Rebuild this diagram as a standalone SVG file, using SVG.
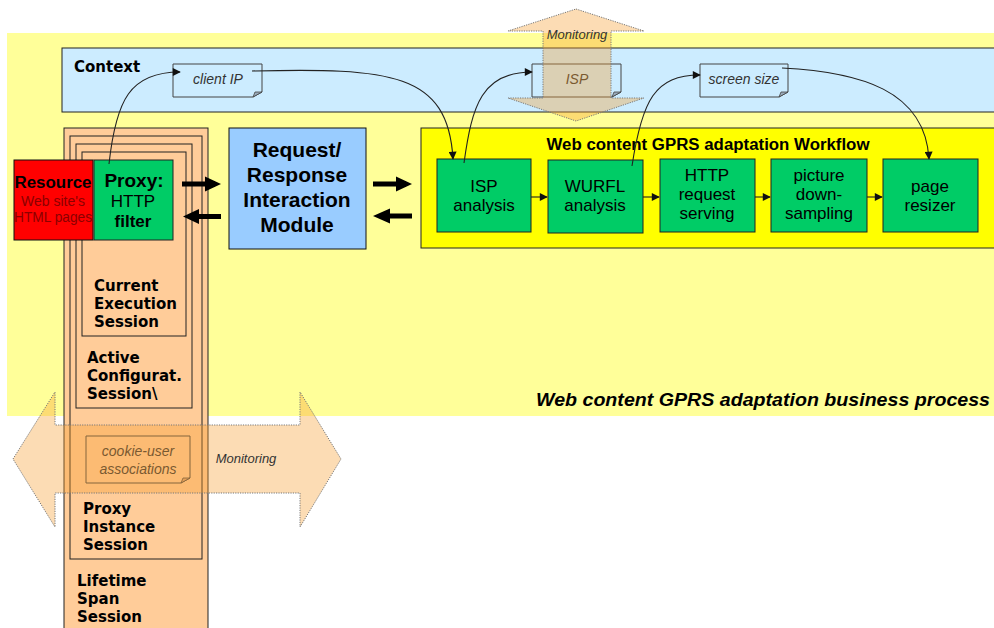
<svg xmlns="http://www.w3.org/2000/svg" width="994" height="628" viewBox="0 0 994 628">
  <defs>
    <style>
      .box { stroke: #111; stroke-width: 1; }
      .sess { fill: #FFCC99; stroke: #222; stroke-width: 1; }
      .step { fill: #00CC66; stroke: #222; stroke-width: 1; }
      .note { fill: #CCECFF; stroke: #444; stroke-width: 1; }
      .curl { fill: #9ab; stroke: #444; stroke-width: 0.8; }
      .lbl { font-family: "Liberation Sans", Arial, sans-serif; fill: #000; }
      .sl { font-family: "DejaVu Sans", Verdana, sans-serif; font-weight: bold; font-size: 15px; fill: #000; }
      .st { font-family: "Liberation Sans", Arial, sans-serif; font-size: 17px; text-anchor: middle; fill: #000; }
      .it { font-family: "Liberation Sans", Arial, sans-serif; font-style: italic; font-size: 14px; fill: #333; text-anchor: middle; }
      .web { font-family: "Liberation Sans", Arial, sans-serif; font-size: 14px; text-anchor: middle; fill: #8B0000; }
      .conn { fill: none; stroke: #222; stroke-width: 1.1; marker-end: url(#ah); }
      .fat { fill: #000; }
      .mon { fill: #F89E30; fill-opacity: 0.36; stroke: #777; stroke-width: 1; stroke-dasharray: 1.2 1.2; }
    </style>
    <marker id="ah" viewBox="0 0 10 10" refX="9" refY="5" markerWidth="9" markerHeight="8" markerUnits="userSpaceOnUse" orient="auto">
      <path d="M0,0 L10,5 L0,10 z" fill="#111"/>
    </marker>
  </defs>

  <rect width="994" height="628" fill="#fff"/>

  <!-- business process area -->
  <g id="business-process">
    <rect x="7" y="33" width="1000" height="383" fill="#FFFF99"/>
    <text class="lbl" x="990" y="406" text-anchor="end" font-size="19" font-weight="bold" font-style="italic" textLength="454" lengthAdjust="spacingAndGlyphs">Web content GPRS adaptation business process</text>
  </g>

  <!-- context band -->
  <g id="context">
    <rect x="62" y="48" width="950" height="64" fill="#CCECFF" stroke="#222" stroke-width="1"/>
    <text class="sl" x="74" y="72">Context</text>
  </g>

  <g id="note-client-ip">
    <path class="note" d="M173,64 H262 V92 L253,97 H173 Z"/>
    <path class="curl" d="M253,97 L255,92 L262,92 Z"/>
    <text class="it" x="218" y="84">client IP</text>
  </g>
  <g id="note-isp">
    <path class="note" d="M532,64 H621 V92 L612,97 H532 Z"/>
    <path class="curl" d="M612,97 L614,92 L621,92 Z"/>
    <text class="it" x="577" y="84">ISP</text>
  </g>
  <g id="note-screen-size">
    <path class="note" d="M700,64 H788 V92 L779,97 H700 Z"/>
    <path class="curl" d="M779,97 L781,92 L788,92 Z"/>
    <text class="it" x="744" y="84">screen size</text>
  </g>

  <!-- nested proxy sessions -->
  <g id="lifetime-span-session">
    <rect class="sess" x="64" y="128" width="144" height="520"/>
    <text class="sl" x="77" y="586">Lifetime</text>
    <text class="sl" x="77" y="604">Span</text>
    <text class="sl" x="77" y="622">Session</text>
  </g>
  <g id="proxy-instance-session">
    <rect class="sess" x="70" y="136" width="132" height="423"/>
    <text class="sl" x="83" y="514">Proxy</text>
    <text class="sl" x="83" y="532">Instance</text>
    <text class="sl" x="83" y="550">Session</text>
  </g>
  <g id="active-configuration-session">
    <rect class="sess" x="76" y="144" width="116" height="264"/>
    <text class="sl" x="87" y="363">Active</text>
    <text class="sl" x="87" y="381">Configurat.</text>
    <text class="sl" x="87" y="399">Session\</text>
  </g>
  <g id="current-execution-session">
    <rect class="sess" x="82" y="152" width="104" height="184"/>
    <text class="sl" x="94" y="291">Current</text>
    <text class="sl" x="94" y="309">Execution</text>
    <text class="sl" x="94" y="327">Session</text>
  </g>

  <g id="note-cookie-user">
    <path d="M86,436 H190 V478 L181,483 H86 Z" fill="#FFCC99" stroke="#444" stroke-width="1"/>
    <path d="M181,483 L183,478 L190,478 Z" fill="#d9a070" stroke="#444" stroke-width="0.8"/>
    <text class="it" x="138" y="456">cookie-user</text>
    <text class="it" x="138" y="474">associations</text>
  </g>

  <g id="resource">
    <rect class="box" x="14" y="160" width="79" height="80" fill="#FF0000"/>
    <text class="lbl" x="53" y="188" text-anchor="middle" font-size="16" font-weight="bold" textLength="77" lengthAdjust="spacingAndGlyphs">Resource</text>
    <text class="web" x="53" y="206">Web site's</text>
    <text class="web" x="53" y="222" textLength="78" lengthAdjust="spacingAndGlyphs">HTML pages</text>
  </g>

  <g id="proxy">
    <rect class="step" x="94" y="160" width="79" height="80"/>
    <text class="lbl" x="134" y="187" text-anchor="middle" font-size="19" font-weight="bold">Proxy:</text>
    <text class="lbl" x="133" y="207" text-anchor="middle" font-size="17">HTTP</text>
    <text class="lbl" x="133" y="227" text-anchor="middle" font-size="17" font-weight="bold">filter</text>
  </g>

  <g id="request-response-module">
    <rect class="box" x="229" y="128" width="137" height="121" fill="#99CCFF"/>
    <text class="lbl" x="297" y="157" text-anchor="middle" font-size="21" font-weight="bold">Request/</text>
    <text class="lbl" x="297" y="182" text-anchor="middle" font-size="21" font-weight="bold">Response</text>
    <text class="lbl" x="297" y="207" text-anchor="middle" font-size="21" font-weight="bold">Interaction</text>
    <text class="lbl" x="297" y="232" text-anchor="middle" font-size="21" font-weight="bold">Module</text>
  </g>

  <!-- adaptation workflow -->
  <g id="workflow">
    <rect x="421" y="128" width="600" height="120" fill="#FFFF00" stroke="#222" stroke-width="1"/>
    <text class="lbl" x="708" y="150" text-anchor="middle" font-size="16" font-weight="bold" textLength="323" lengthAdjust="spacingAndGlyphs">Web content GPRS adaptation Workflow</text>
  </g>
  <g id="isp-analysis">
    <rect class="step" x="437" y="159" width="94" height="73"/>
    <text class="st" x="484" y="192">ISP</text>
    <text class="st" x="484" y="211">analysis</text>
  </g>
  <g id="wurfl-analysis">
    <rect class="step" x="548" y="160" width="95" height="73"/>
    <text class="st" x="595" y="192">WURFL</text>
    <text class="st" x="595" y="211">analysis</text>
  </g>
  <g id="http-request-serving">
    <rect class="step" x="660" y="159" width="95" height="73"/>
    <text class="st" x="707" y="181">HTTP</text>
    <text class="st" x="707" y="200">request</text>
    <text class="st" x="707" y="219">serving</text>
  </g>
  <g id="picture-down-sampling">
    <rect class="step" x="771" y="159" width="96" height="73"/>
    <text class="st" x="819" y="181">picture</text>
    <text class="st" x="819" y="200">down-</text>
    <text class="st" x="819" y="219">sampling</text>
  </g>
  <g id="page-resizer">
    <rect class="step" x="883" y="159" width="95" height="73"/>
    <text class="st" x="930" y="192">page</text>
    <text class="st" x="930" y="211">resizer</text>
  </g>

  <!-- data and control flow -->
  <g id="connectors">
    <path class="conn" d="M109,164 C116,100 130,72 180,72"/>
    <path class="conn" d="M252,71 C390,68 448,72 453,159"/>
    <path class="conn" d="M464,163 C472,105 482,72 532,72"/>
    <path class="conn" d="M632,166 C642,100 655,75 700,75"/>
    <path class="conn" d="M782,68 C860,72 925,90 929,159"/>
    <path class="conn" d="M531,197 H547"/>
    <path class="conn" d="M643,197 H659"/>
    <path class="conn" d="M755,197 H770"/>
    <path class="conn" d="M867,197 H882"/>
    <!-- request / response exchange arrows -->
    <polygon class="fat" points="182,181.5 205,181.5 205,176.5 221,184 205,191.5 205,186.5 182,186.5"/>
    <polygon class="fat" points="221,214 199,214 199,209 183,216.5 199,224 199,219 221,219"/>
    <polygon class="fat" points="373,181.5 396,181.5 396,176.5 412,184 396,191.5 396,186.5 373,186.5"/>
    <polygon class="fat" points="412,213.5 390,213.5 390,208.5 373,216 390,223.5 390,218.5 412,218.5"/>
  </g>

  <!-- monitoring arrows, drawn translucent over the rest -->
  <g id="monitoring-vertical">
    <polygon class="mon" points="576,9 644,31 611,31 611,98 644,98 576,121 508,98 543,98 543,31 508,31"/>
    <text class="it" x="577" y="39" style="font-size:13px">Monitoring</text>
  </g>
  <g id="monitoring-horizontal">
    <polygon class="mon" points="13,459 55,392 55,425 300,425 300,392 341,459 300,527 300,493 55,493 55,527"/>
    <text class="it" x="246" y="463" style="font-size:13px">Monitoring</text>
  </g>
</svg>
